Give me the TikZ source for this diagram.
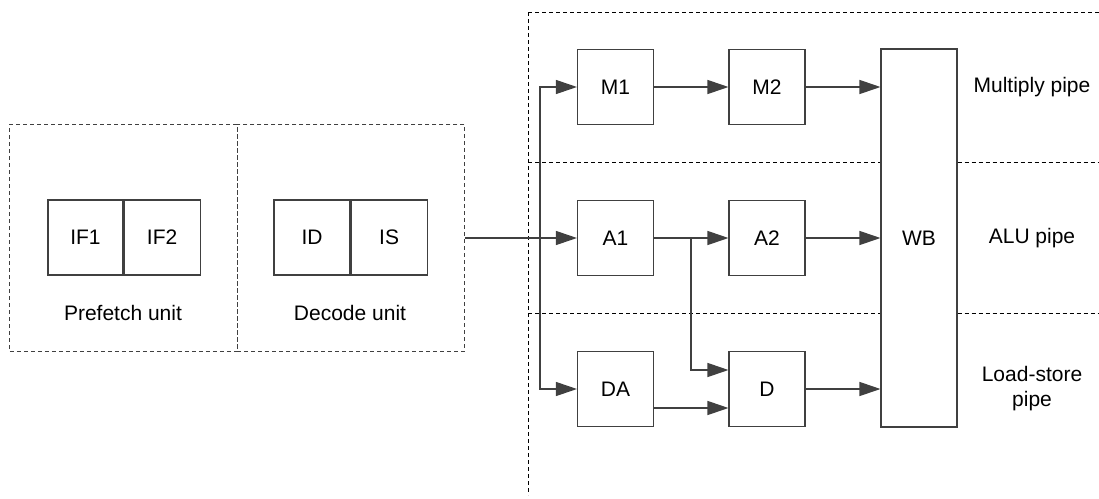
\documentclass[tikz,border=0pt]{standalone}
\usepackage{fontspec}
\setmainfont{Liberation Sans}
\usetikzlibrary{arrows.meta,positioning}
\definecolor{linegray}{RGB}{64,64,64}
\begin{document}
\begin{tikzpicture}[x=1pt, y=-1pt, font=\fontsize{21}{25}\selectfont,
    stage/.style = {draw=linegray, line width=1.1pt, minimum width=76pt, minimum height=75pt, inner sep=0pt},
    unitbox/.style = {draw=linegray, line width=1pt, dash pattern=on 4pt off 3pt, minimum width=227.5pt, minimum height=227pt, inner sep=0pt},
    lane/.style = {draw=black, line width=1pt, dash pattern=on 4pt off 3pt},
    flow/.style = {draw=linegray, line width=1.2pt, -{Triangle[length=21pt, width=14pt]}}]
    \useasboundingbox (0,0) rectangle (1099,498);
    % front end: prefetch and decode
    \node[unitbox] (pf) at (123.5,237.5) {};
    \node[unitbox] (dec) at (351,237.5) {};
    \node[stage, minimum width=75pt] (if1) at (85.5,237.5) {IF1};
    \node[stage, minimum width=76pt, right=0pt of if1] (if2) {IF2};
    \node[stage] (id) at (312,237.5) {ID};
    \node[stage, right=0pt of id] (is) {IS};
    \node (pflabel) at (123,313) {Prefetch unit};
    \node (declabel) at (350,313) {Decode unit};
    % pipes
    \node[stage] (m1) at (615.5,87) {M1};
    \node[stage] (m2) at (767,87) {M2};
    \node[stage] (a1) at (615.5,238) {A1};
    \node[stage] (a2) at (767,238) {A2};
    \node[stage] (da) at (615.5,389) {DA};
    \node[stage] (d) at (767,389) {D};
    \node[stage, minimum height=378pt] (wb) at (919,238) {WB};
    \node (mullabel) at (1032,87) {Multiply pipe};
    \node (alulabel) at (1032,238) {ALU pipe};
    \node[align=center] (lslabel) at (1032,388.5) {Load-store\\pipe};
    % lane borders
    \coordinate (lanetop) at (528,12);
    \draw[lane] (lanetop) -- (1099,12);
    \draw[lane] (lanetop) -- (528,495);
    \draw[lane] (528,162) -- (wb.west |- 0,162);
    \draw[lane] (wb.east |- 0,162) -- (1099,162);
    \draw[lane] (528,313) -- (wb.west |- 0,313);
    \draw[lane] (wb.east |- 0,313) -- (1099,313);
    % connections
    \coordinate (issue) at (540,238);
    \coordinate (fwd) at (691,238);
    \draw[flow] (dec.east |- a1.west) -- (a1.west);
    \draw[flow] (issue) |- (m1.west);
    \draw[flow] (issue) |- (da.west);
    \draw[flow] (m1) -- (m2);
    \draw[flow] (m2.east) -- (m2.east -| wb.west);
    \draw[flow] (a1) -- (a2);
    \draw[flow] (fwd) |- ([yshift=19pt]d.west);
    \draw[flow] (a2.east) -- (a2.east -| wb.west);
    \draw[flow] ([yshift=-19pt]da.east) -- ([yshift=-19pt]d.west);
    \draw[flow] (d.east) -- (d.east -| wb.west);
\end{tikzpicture}
\end{document}
